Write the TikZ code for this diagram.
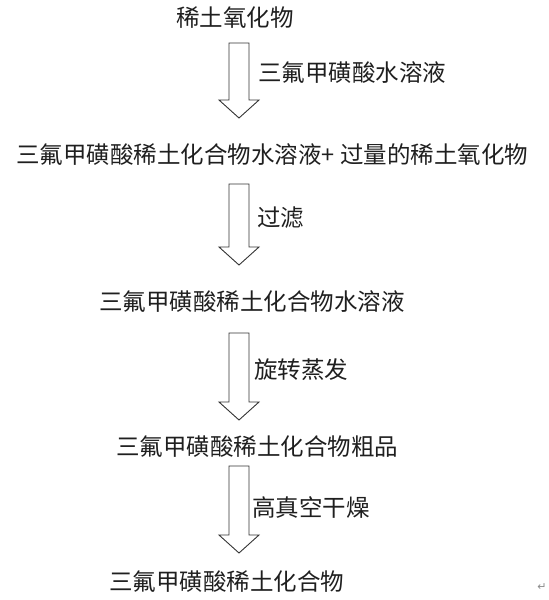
\documentclass[tikz,border=0pt]{standalone}
\usepackage{fontspec}
\newfontfamily\cjk{Noto Sans CJK SC}
\newfontfamily\symb{DejaVu Sans}
\usetikzlibrary{calc}

\tikzset{
  substance/.style={anchor=west,inner sep=0pt,text=black!88,
    font=\cjk\fontsize{23.5}{28}\selectfont},
  process/.style={substance},
  flow/.style={draw=black!80,line width=0.9pt,
    to path={let \p1=(\tikztostart), \p2=(\tikztotarget) in
      (\x1-10pt,\y1) -- (\x1+10pt,\y1) -- (\x1+10pt,\y2+18pt)
      -- (\x1+20pt,\y2+18pt) -- (\x1,\y2) -- (\x1-20pt,\y2+18pt)
      -- (\x1-10pt,\y2+18pt) -- cycle}}
}

\begin{document}
\begin{tikzpicture}[x=1pt,y=1pt]
  \useasboundingbox (0,0) rectangle (549,-600);

  % substances
  \node[substance] (oxide) at (176,-18) {稀土氧化物};
  \node[substance] (mixture) at (16,-155) {三氟甲磺酸稀土化合物水溶液+\ 过量的稀土氧化物};
  \node[substance] (solution) at (99,-302) {三氟甲磺酸稀土化合物水溶液};
  \node[substance] (crude) at (116,-447) {三氟甲磺酸稀土化合物粗品};
  \node[substance] (product) at (109,-582) {三氟甲磺酸稀土化合物};

  % arrow ends
  \coordinate (s1) at (239,-43);  \coordinate (e1) at (239,-118);
  \coordinate (s2) at (239,-184); \coordinate (e2) at (239,-265);
  \coordinate (s3) at (239,-333); \coordinate (e3) at (239,-420);
  \coordinate (s4) at (239,-466); \coordinate (e4) at (239,-553);

  \draw[flow] (s1) to (e1);
  \draw[flow] (s2) to (e2);
  \draw[flow] (s3) to (e3);
  \draw[flow] (s4) to (e4);

  % process steps
  \node[process] (acid) at (258,-73) {三氟甲磺酸水溶液};
  \node[process] (filter) at (257,-218) {过滤};
  \node[process] (evap) at (254,-370) {旋转蒸发};
  \node[process] (dry) at (252,-507) {高真空干燥};

  \node[text=black!45,inner sep=0pt,font=\symb\fontsize{11}{12}\selectfont] (mark) at (542,-587) {↵};
\end{tikzpicture}
\end{document}
